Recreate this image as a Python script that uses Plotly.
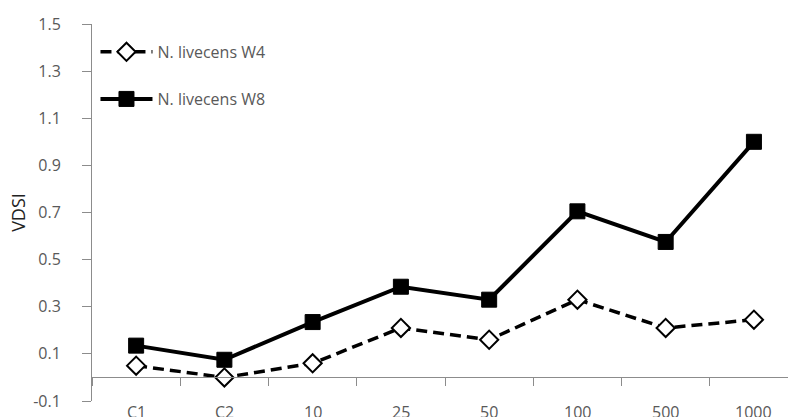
import plotly.graph_objects as go

# Treatment groups along the x axis
categories = ["C1", "C2", "10", "25", "50", "100", "500", "1000"]

# VDSI values for each sampling week
w4_values = [0.05, 0.0, 0.06, 0.21, 0.16, 0.33, 0.21, 0.245]
w8_values = [0.135, 0.075, 0.235, 0.385, 0.33, 0.705, 0.575, 1.0]

y_ticks = [-0.1, 0.1, 0.3, 0.5, 0.7, 0.9, 1.1, 1.3, 1.5]
y_range = [-0.1, 1.5]

axis_grey = "#8c8c8c"
text_grey = "#595959"
font_family = "Open Sans"

fig = go.Figure()

fig.add_trace(go.Scatter(
    x=categories, y=w4_values, name="N. livecens W4",
    mode="lines+markers",
    line=dict(color="black", width=3.5, dash="11px,6px"),
    marker=dict(symbol="diamond", size=14, color="white",
                line=dict(color="black", width=2)),
    legend="legend", showlegend=True,
))

fig.add_trace(go.Scatter(
    x=categories, y=w8_values, name="N. livecens W8",
    mode="lines+markers",
    line=dict(color="black", width=4),
    marker=dict(symbol="square", size=15, color="black",
                line=dict(color="black", width=1)),
    legend="legend2", showlegend=True,
))

# x axis line sits at y = 0, category labels along the bottom edge
zero_pos = (0 - y_range[0]) / (y_range[1] - y_range[0])

for i, cat in enumerate(categories):
    fig.add_annotation(
        x=i, xref="x", y=0, yref="paper", yanchor="top",
        text=cat, showarrow=False, yshift=2,
        font=dict(family=font_family, size=16, color=text_grey),
    )

legend_font = dict(family=font_family, size=16, color=text_grey)

fig.update_layout(
    width=788, height=417,
    margin=dict(l=92, r=0, t=24, b=16),
    paper_bgcolor="white", plot_bgcolor="white",
    showlegend=True,
    font=dict(family=font_family, size=16, color=text_grey),
    xaxis=dict(
        type="category", categoryorder="array", categoryarray=categories,
        range=[-0.5, 7.386],
        anchor="free", position=zero_pos,
        showline=True, linecolor=axis_grey, linewidth=1,
        ticks="outside", tickson="boundaries", ticklen=8,
        tickcolor=axis_grey, tickwidth=1,
        showticklabels=False, showgrid=False, zeroline=False,
    ),
    yaxis=dict(
        range=y_range, tickvals=y_ticks,
        ticktext=[f"{v:.1f}" for v in y_ticks],
        showline=True, linecolor=axis_grey, linewidth=1,
        ticks="outside", ticklen=9, tickcolor=axis_grey, tickwidth=1,
        ticklabelstandoff=18,
        showgrid=False, zeroline=False,
        title=dict(text="VDSI", standoff=2,
                   font=dict(family=font_family, size=18, color="#222222")),
    ),
    legend=dict(
        x=0.005, y=0.926, xanchor="left", yanchor="middle",
        bgcolor="rgba(0,0,0,0)", itemwidth=52, font=legend_font,
    ),
    legend2=dict(
        x=0.005, y=0.801, xanchor="left", yanchor="middle",
        bgcolor="rgba(0,0,0,0)", itemwidth=52, font=legend_font,
    ),
)

fig.write_html("out.html")
